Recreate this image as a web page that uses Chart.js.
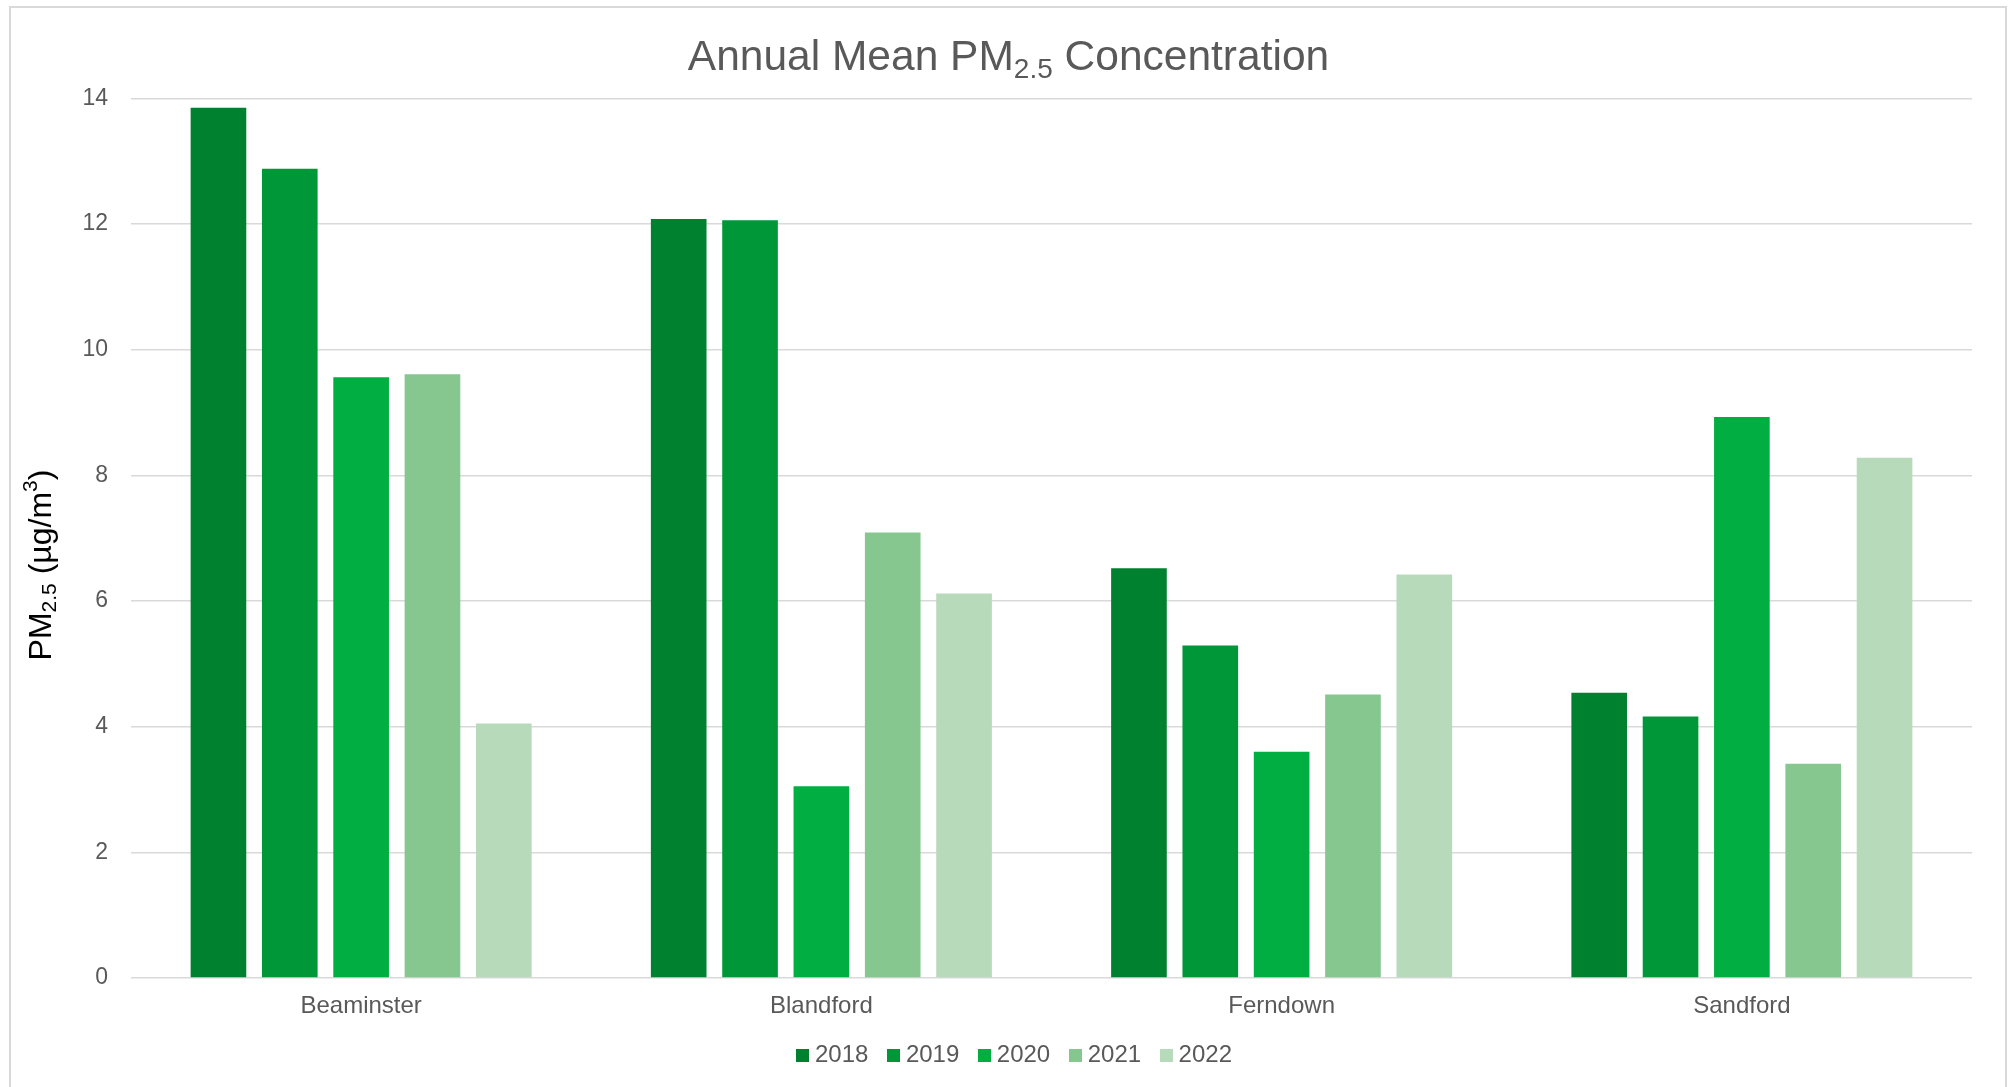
<!DOCTYPE html>
<html><head><meta charset="utf-8">
<script src="https://cdn.jsdelivr.net/npm/chart.js@4.4.1/dist/chart.umd.min.js"></script>
<style>
html,body{margin:0;padding:0;background:#fff;overflow:hidden;}
#wrap{position:relative;width:2013px;height:1087px;}
#frame{position:absolute;left:9px;top:6px;width:1998px;height:1100px;border:2px solid #d9d9d9;box-sizing:border-box;pointer-events:none;}
canvas{position:absolute;left:0;top:0;}
</style></head><body>
<div id="wrap"><canvas id="c"></canvas><div id="frame"></div></div>
<script>
const categories = ['Beaminster', 'Blandford', 'Ferndown', 'Sandford'];
const years = ['2018', '2019', '2020', '2021', '2022'];
const values2018 = [13.85, 12.08, 6.52, 4.54];
const values2019 = [12.88, 12.06, 5.29, 4.16];
const values2020 = [9.56, 3.05, 3.60, 8.93];
const values2021 = [9.61, 7.09, 4.51, 3.41];
const values2022 = [4.05, 6.12, 6.42, 8.28];
const yTicks = [0, 2, 4, 6, 8, 10, 12, 14];
const colors = ['#00812f', '#009739', '#00ae41', '#86c68f', '#b7dabb'];
const titleParts = [{t: 'Annual Mean PM'}, {t: '2.5', sub: true}, {t: ' Concentration'}];
const yTitleParts = [{t: 'PM'}, {t: '2.5', sub: true}, {t: ' (µg/m'}, {t: '3', sup: true}, {t: ')'}];

const FONT = '"Liberation Sans", Arial, sans-serif';
const series = [values2018, values2019, values2020, values2021, values2022];

function drawRich(ctx, parts, x, y, size, color, subShift, supShift) {
  const small = Math.round(size * 0.65);
  let total = 0;
  const widths = parts.map(p => {
    ctx.font = ((p.sub || p.sup) ? small : size) + 'px ' + FONT;
    const w = ctx.measureText(p.t).width;
    total += w;
    return w;
  });
  let cx = x - total / 2;
  ctx.fillStyle = color;
  ctx.textAlign = 'left';
  ctx.textBaseline = 'alphabetic';
  parts.forEach((p, i) => {
    ctx.font = ((p.sub || p.sup) ? small : size) + 'px ' + FONT;
    const dy = p.sub ? size * subShift : (p.sup ? -size * supShift : 0);
    ctx.fillText(p.t, cx, y + dy);
    cx += widths[i];
  });
}

const richText = {
  id: 'richText',
  afterDraw(chart) {
    const ctx = chart.ctx;
    ctx.save();
    drawRich(ctx, titleParts, chart.width / 2 + 2, 70, 42.5, '#595959', 0.19, 0.4);
    ctx.restore();
    ctx.save();
    ctx.translate(51, 565);
    ctx.rotate(-Math.PI / 2);
    drawRich(ctx, yTitleParts, 0, 0, 32, '#000000', 0.17, 0.45);
    ctx.restore();
  }
};

function swatch(color) {
  const c = document.createElement('canvas');
  c.width = 13; c.height = 13;
  const g = c.getContext('2d');
  g.fillStyle = color;
  g.fillRect(0, 0, 13, 13);
  return c;
}

new Chart(document.getElementById('c'), {
  type: 'bar',
  data: {
    labels: categories,
    datasets: years.map((y, i) => ({
      label: y,
      data: series[i],
      backgroundColor: colors[i],
      borderWidth: 0,
      categoryPercentage: 0.775,
      barPercentage: 0.78
    }))
  },
  options: {
    responsive: true,
    maintainAspectRatio: false,
    animation: false,
    devicePixelRatio: 1,
    layout: {padding: {left: 62, right: 41, top: 98.3, bottom: 10}},
    plugins: {
      title: {display: false},
      tooltip: {enabled: false},
      legend: {
        position: 'bottom',
        labels: {
          font: {family: FONT, size: 24},
          color: '#595959',
          usePointStyle: true,
          boxWidth: 1,
          padding: 24.5,
          generateLabels(chart) {
            const items = Chart.defaults.plugins.legend.labels.generateLabels(chart);
            items.forEach((it, i) => { it.pointStyle = swatch(colors[i]); });
            return items;
          }
        }
      }
    },
    scales: {
      x: {
        grid: {display: false, drawTicks: false},
        border: {display: false},
        ticks: {font: {family: FONT, size: 24}, color: '#595959', padding: 14, maxRotation: 0},
        afterFit(s) { s.height = 40.5; }
      },
      y: {
        min: 0, max: 14,
        grid: {color: '#d9d9d9', lineWidth: 1.5, drawTicks: false},
        border: {display: false},
        ticks: {font: {family: FONT, size: 23}, color: '#595959', padding: 23},
        afterBuildTicks(s) { s.ticks = yTicks.map(v => ({value: v})); },
        afterFit(s) { s.width = 69; }
      }
    }
  },
  plugins: [richText]
});
</script>
</body></html>
